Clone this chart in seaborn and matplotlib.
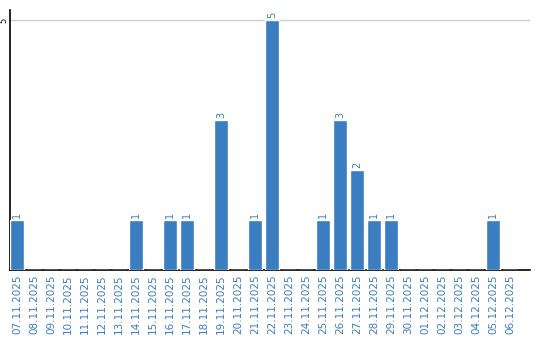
import matplotlib
matplotlib.use("Agg")
import matplotlib.pyplot as plt
import seaborn as sns
import pandas as pd

dates = ["07.11.2025", "08.11.2025", "09.11.2025", "10.11.2025", "11.11.2025",
         "12.11.2025", "13.11.2025", "14.11.2025", "15.11.2025", "16.11.2025",
         "17.11.2025", "18.11.2025", "19.11.2025", "20.11.2025", "21.11.2025",
         "22.11.2025", "23.11.2025", "24.11.2025", "25.11.2025", "26.11.2025",
         "27.11.2025", "28.11.2025", "29.11.2025", "30.11.2025", "01.12.2025",
         "02.12.2025", "03.12.2025", "04.12.2025", "05.12.2025", "06.12.2025"]
counts = [1, 0, 0, 0, 0, 0, 0, 1, 0, 1,
          1, 0, 3, 0, 1, 5, 0, 0, 1, 3,
          2, 1, 1, 0, 0, 0, 0, 0, 1, 0]
yticks = [5]

sns.set_theme(style="white")
plt.rcParams['font.family'] = ['DejaVu Sans']

df = pd.DataFrame({"date": dates, "count": counts})
blue = "#3b7dc1"

fig = plt.figure(figsize=(5.4, 3.4), dpi=100)
ax = fig.add_axes([10/540, 70/340, 520/540, 260/340])
sns.barplot(data=df, x="date", y="count", order=dates, color=blue,
            width=0.82, saturation=1, ax=ax, zorder=3)

ax.set_xlim(-0.41, 30.18)
ax.set_ylim(0, 5.2)
ax.set_yticks(yticks)
ax.set_yticklabels([str(v) for v in yticks], rotation=90, va="center",
                   fontsize=6, color="black")
ax.tick_params(axis="y", length=0, pad=1)
ax.tick_params(axis="x", length=0, pad=3)
ax.set_xticks(range(len(dates)))
ax.set_xticklabels(dates, rotation=90, fontsize=7.5, color=blue)
ax.set_xlabel("")
ax.set_ylabel("")
ax.grid(axis="y", color="#cccccc", linewidth=1, zorder=0)

for s in ["top", "right"]:
    ax.spines[s].set_visible(False)
for s in ["left", "bottom"]:
    ax.spines[s].set_color("black")
    ax.spines[s].set_linewidth(1.2)

for i, v in enumerate(counts):
    if v > 0:
        ax.text(i, v + 0.04, str(v), rotation=90, ha="center", va="bottom",
                fontsize=7, color=blue)

fig.savefig("out.png", dpi=100)
